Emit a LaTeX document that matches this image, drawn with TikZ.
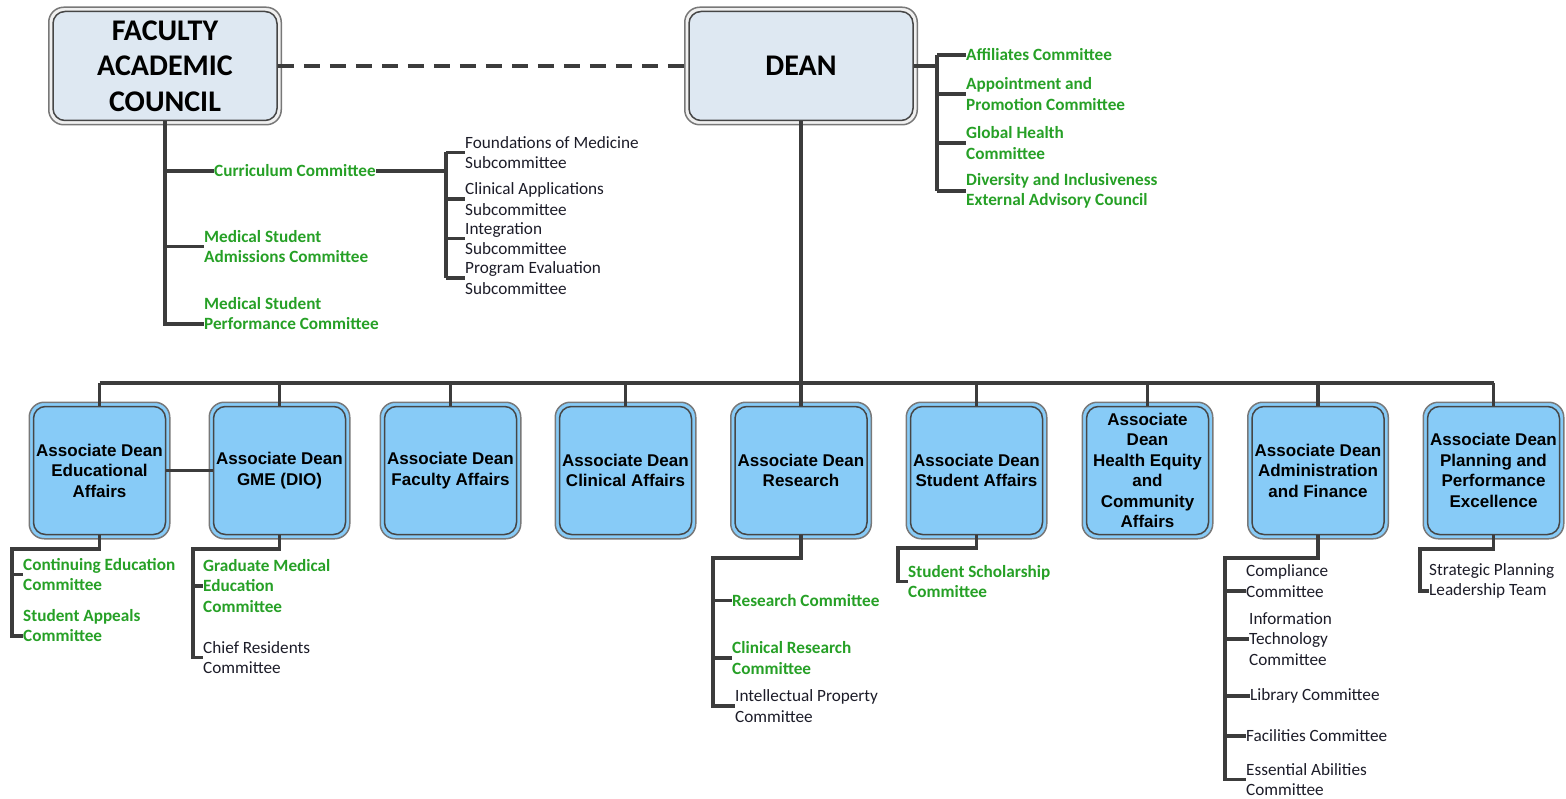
\documentclass[tikz,border=0pt]{standalone}
\usepackage{fontspec}
\setmainfont{Carlito}
\newfontfamily\arialf{Liberation Sans}
\usetikzlibrary{calc,backgrounds}
\definecolor{conn}{RGB}{60,60,60}
\definecolor{grn}{RGB}{38,160,38}
\definecolor{blk}{RGB}{28,28,40}
\definecolor{bluefill}{RGB}{135,203,247}
\definecolor{topfill}{RGB}{222,232,242}
\definecolor{outerg}{RGB}{120,120,120}
\definecolor{innerg}{RGB}{70,70,70}
\begin{document}
\begin{tikzpicture}[x=1pt,y=-1pt,
  con/.style={draw=conn, line width=3.3pt},
  topbox/.style={rounded corners=12pt, draw=innerg, line width=1.5pt, fill=topfill,
     minimum width=224pt, minimum height=109pt, inner sep=0pt, align=center,
     font=\fontsize{30}{35.5}\selectfont\bfseries, text=black},
  topframe/.style={rounded corners=15pt, draw=outerg, line width=1.5pt, fill=white!94!black},
  bluebox/.style={rounded corners=12pt, draw=innerg, line width=1.5pt, fill=bluefill,
     minimum width=132pt, minimum height=128pt, inner sep=0pt, align=center,
     font=\arialf\bfseries\fontsize{17}{20.5}\selectfont, text=black},
  blueframe/.style={rounded corners=15pt, draw=outerg, line width=1.5pt, fill=bluefill},
  gt/.style={anchor=west, inner sep=0pt, align=left, text=grn,
     font=\bfseries\fontsize{17.2}{20.3}\selectfont},
  kt/.style={anchor=west, inner sep=0pt, align=left, text=blk,
     font=\fontsize{17.2}{20.3}\selectfont}
]
\useasboundingbox (0,0) rectangle (1566,799);

% top boxes
\node[topbox] (fac) at (165,66) {FACULTY\\ACADEMIC\\COUNCIL};
\node[topbox] (dean) at (801,66) {DEAN};

% associate dean boxes
\node[bluebox] (b1) at (99.5,470.5) {Associate Dean\\Educational\\Affairs};
\node[bluebox] (b2) at (279.5,470.5) {Associate Dean\\GME (DIO)};
\node[bluebox] (b3) at (450.5,470.5) {Associate Dean\\Faculty Affairs};
\node[bluebox] (b4) at (625.5,470.5) {Associate Dean\\Clinical Affairs};
\node[bluebox] (b5) at (801,470.5) {Associate Dean\\Research};
\node[bluebox] (b6) at (976.5,470.5) {Associate Dean\\Student Affairs};
\node[bluebox, minimum width=122pt] (b7) at (1147.5,470.5) {Associate\\Dean\\Health Equity\\and\\Community\\Affairs};
\node[bluebox] (b8) at (1318,470.5) {Associate Dean\\Administration\\and Finance};
\node[bluebox] (b9) at (1493.5,470.5) {Associate Dean\\Planning and\\Performance\\Excellence};

\begin{scope}[on background layer]
  \foreach \n in {fac,dean}
    \draw[topframe] ([shift={(-3.5,-3.5)}]\n.north west) rectangle ([shift={(3.5,3.5)}]\n.south east);
  \foreach \n in {b1,b2,b3,b4,b5,b6,b7,b8,b9}
    \draw[blueframe] ([shift={(-3.5,-3.5)}]\n.north west) rectangle ([shift={(3.5,3.5)}]\n.south east);
\end{scope}

% dashed link
\draw[con, dash pattern=on 16pt off 10pt] (fac.east) -- (dean.west);

% faculty council tree
\node[gt] (cur) at (214,171) {Curriculum Committee};
\node[gt] (msa) at (204,246.5) {Medical Student\\Admissions Committee};
\node[gt] (msp) at (204,313.5) {Medical Student\\Performance Committee};
\coordinate (fbot) at (165,324);
\draw[con] (fac.south) -- (fbot) -- (msp.west |- fbot);
\draw[con] (fac.south |- cur.west) -- (cur.west);
\draw[con] (fac.south |- msa.west) -- (msa.west);

\node[kt] (fom) at (465,152.5) {Foundations of Medicine\\Subcommittee};
\node[kt] (cas) at (465,199) {Clinical Applications\\Subcommittee};
\node[kt] (ins) at (465,238.5) {Integration\\Subcommittee};
\node[kt] (pes) at (465,278) {Program Evaluation\\Subcommittee};
\coordinate (br) at (446,171);
\draw[con] (cur.east) -- (br);
\draw[con] (br |- fom.west) -- (br |- pes.west);
\foreach \n in {fom,cas,ins,pes} \draw[con] (br |- \n.west) -- (\n.west);

% dean committees
\node[gt] (aff) at (966,55) {Affiliates Committee};
\node[gt] (apc) at (966,94) {Appointment and\\Promotion Committee};
\node[gt] (ghc) at (966,143) {Global Health\\Committee};
\node[gt] (die) at (966,191) {Diversity and Inclusiveness\\External Advisory Council};
\coordinate (dr) at (937,66);
\draw[con] (dean.east) -- (dr);
\draw[con] (dr |- aff.west) -- (dr |- die.west);
\foreach \n in {aff,apc,ghc,die} \draw[con] (dr |- \n.west) -- (\n.west);

% bus
\coordinate (bus) at (0,383);
\draw[con] (dean.south) -- (dean.south |- bus);
\draw[con] (b1.north |- bus) -- (b9.north |- bus);
\foreach \n in {b1,b2,b3,b4,b5,b6,b7,b8,b9} \draw[con] (\n.north |- bus) -- (\n.north);
\draw[con] (b1.east) -- (b2.west);

% box 1
\node[gt] (cec) at (23,574.5) {Continuing Education\\Committee};
\node[gt] (sac) at (23,625.5) {Student Appeals\\Committee};
\coordinate (t1) at (12,549); \coordinate (t1e) at (12,636);
\draw[con] (b1.south) |- (t1) -- (t1e) -- (sac.west |- t1e);
\draw[con] (t1 |- cec.west) -- (cec.west);

% box 2
\node[gt] (gme) at (203,586) {Graduate Medical\\Education\\Committee};
\node[kt] (crc) at (203,657.5) {Chief Residents\\Committee};
\coordinate (t2) at (193,549);
\draw[con] (b2.south) |- (t2) -- (t2 |- crc.west) -- (crc.west);
\draw[con] (t2 |- gme.west) -- (gme.west);

% box 5
\node[gt] (rc) at (732,600.5) {Research Committee};
\node[gt] (crcm) at (732,658) {Clinical Research\\Committee};
\node[kt] (ipc) at (735,706) {Intellectual Property\\Committee};
\coordinate (t5) at (713,558);
\draw[con] (b5.south) |- (t5) -- (t5 |- ipc.west) -- (ipc.west);
\draw[con] (t5 |- rc.west) -- (rc.west);
\draw[con] (t5 |- crcm.west) -- (crcm.west);

% box 6
\node[gt] (ssc) at (908,581.5) {Student Scholarship\\Committee};
\coordinate (t6) at (898,548);
\draw[con] (b6.south) |- (t6) -- (t6 |- ssc.west) -- (ssc.west);

% box 8
\node[kt] (cc) at (1246,581) {Compliance\\Committee};
\node[kt] (itc) at (1249,639) {Information\\Technology\\Committee};
\node[kt] (lc) at (1250,696) {Library Committee};
\node[kt] (fc) at (1246,736) {Facilities Committee};
\node[kt] (eac) at (1246,779.5) {Essential Abilities\\Committee};
\coordinate (t8) at (1225,558); \coordinate (c8) at (1225,591);
\draw[con] (b8.south) |- (t8) -- (t8 |- eac.west) -- (eac.west);
\draw[con] (c8) -- (cc.west |- c8);
\draw[con] (t8 |- itc.west) -- (itc.west);
\draw[con] (t8 |- lc.west) -- (lc.west);
\draw[con] (t8 |- fc.west) -- (fc.west);

% box 9
\node[kt] (spl) at (1429,581) {Strategic Planning\\Leadership Team};
\coordinate (t9) at (1420,549); \coordinate (c9) at (1420,591);
\draw[con] (b9.south) |- (t9) -- (c9) -- (spl.west |- c9);
\end{tikzpicture}
\end{document}
